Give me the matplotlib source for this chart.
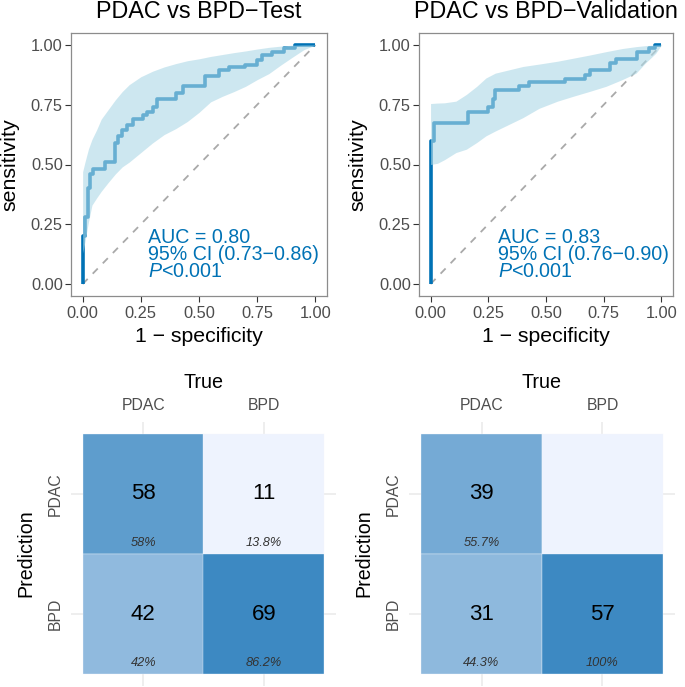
import numpy as np
import matplotlib
matplotlib.use("Agg")
import matplotlib.pyplot as plt
from matplotlib.colors import LinearSegmentedColormap, Normalize

plt.rcParams["font.family"] = ["Liberation Sans", "DejaVu Sans"]
plt.rcParams["mathtext.fontset"] = "custom"
plt.rcParams["mathtext.rm"] = "Liberation Sans"
plt.rcParams["mathtext.it"] = "Liberation Sans:italic"

# ROC curves (fpr, tpr at each step)
test_fpr = [0, 0, 0.012, 0.022, 0.032, 0.045, 0.096, 0.139, 0.154, 0.168, 0.189, 0.218,
            0.26, 0.275, 0.304, 0.318, 0.40, 0.43, 0.524, 0.584, 0.627, 0.699, 0.749,
            0.77, 0.814, 0.864, 0.914, 1.0]
test_tpr = [0, 0.20, 0.28, 0.40, 0.46, 0.48, 0.51, 0.59, 0.62, 0.645, 0.665, 0.69,
            0.705, 0.72, 0.74, 0.772, 0.80, 0.83, 0.871, 0.896, 0.906, 0.917, 0.938,
            0.958, 0.972, 0.986, 1.0, 1.0]

test_ci_fpr = [0, 0.01, 0.025, 0.04, 0.06, 0.08, 0.11, 0.14, 0.17, 0.2, 0.25, 0.3, 0.35,
               0.4, 0.45, 0.5, 0.55, 0.6, 0.65, 0.7, 0.75, 0.8, 0.85, 0.9, 0.95, 1.0]
test_ci_upper = [0.47, 0.51, 0.565, 0.605, 0.645, 0.69, 0.73, 0.77, 0.805, 0.834, 0.867,
                 0.89, 0.908, 0.922, 0.934, 0.942, 0.952, 0.96, 0.968, 0.975, 0.983,
                 0.99, 0.995, 0.999, 1.0, 1.0]
test_ci_lower = [0.13, 0.177, 0.26, 0.33, 0.36, 0.388, 0.425, 0.46, 0.49, 0.51, 0.55,
                 0.59, 0.625, 0.65, 0.68, 0.718, 0.762, 0.785, 0.805, 0.827, 0.855,
                 0.88, 0.915, 0.948, 0.98, 1.0]

val_fpr = [0, 0, 0.017, 0.163, 0.248, 0.27, 0.281, 0.384, 0.427, 0.582, 0.668, 0.689,
           0.775, 0.803, 0.896, 0.946, 0.974, 1.0]
val_tpr = [0, 0.60, 0.672, 0.719, 0.74, 0.772, 0.813, 0.83, 0.844, 0.858, 0.876, 0.896,
           0.924, 0.94, 0.972, 0.986, 1.0, 1.0]

val_ci_fpr = [0, 0.03, 0.06, 0.11, 0.155, 0.2, 0.24, 0.28, 0.34, 0.4, 0.47, 0.55, 0.62,
              0.69, 0.76, 0.83, 0.89, 0.93, 0.975, 1.0]
val_ci_upper = [0.755, 0.757, 0.758, 0.765, 0.793, 0.827, 0.862, 0.882, 0.896, 0.91,
                0.92, 0.932, 0.945, 0.958, 0.972, 0.985, 0.993, 0.997, 1.0, 1.0]
val_ci_lower = [0.50, 0.505, 0.52, 0.55, 0.564, 0.592, 0.62, 0.64, 0.668, 0.696, 0.735,
                0.765, 0.786, 0.806, 0.827, 0.855, 0.882, 0.924, 0.965, 1.0]

test_stats = ["AUC = 0.80", "95% CI (0.73\u22120.86)", "$\\mathit{P}$<0.001"]
val_stats = ["AUC = 0.83", "95% CI (0.76\u22120.90)", "$\\mathit{P}$<0.001"]

# confusion matrices: rows = prediction, columns = true
classes = ["PDAC", "BPD"]
test_counts = [[58, 11], [42, 69]]
val_counts = [[39, 0], [31, 57]]

W, H = 685, 687
LINE_BLUE = "#0072B5"
TICK_GREY = "#4D4D4D"


def px_rect(x0, y0, x1, y1):
    return [x0 / W, 1 - y1 / H, (x1 - x0) / W, (y1 - y0) / H]


def plot_roc(fig, rect, title, fpr, tpr, ci_fpr, ci_lo, ci_hi, stats, ylab_x, text_x):
    ax = fig.add_axes(px_rect(*rect))
    ax.plot([0, 1], [0, 1], color="#A9A9A9", lw=1.3, ls=(0, (4, 4)), zorder=1)
    ax.plot(fpr, tpr, drawstyle="steps-post", color=LINE_BLUE, lw=2.6, zorder=2,
            solid_capstyle="butt")
    # ribbon drawn over the line, like the original
    ax.fill_between(ci_fpr, ci_lo, ci_hi, color="lightblue", alpha=0.6, lw=0, zorder=3)
    ax.text(text_x, 0.123, "\n".join(stats), color=LINE_BLUE, fontsize=14.1,
            va="center", ha="left", linespacing=0.86, zorder=5)
    ax.set_xlim(-0.05, 1.05)
    ax.set_ylim(-0.05, 1.05)
    ticks = [0, 0.25, 0.5, 0.75, 1.0]
    ax.set_xticks(ticks)
    ax.set_yticks(ticks)
    ax.set_xticklabels([f"{t:.2f}" for t in ticks])
    ax.set_yticklabels([f"{t:.2f}" for t in ticks])
    ax.tick_params(length=4.3, width=0.8, color="#333333", labelcolor=TICK_GREY,
                   labelsize=11.8)
    ax.tick_params(axis="x", pad=3.0)
    ax.tick_params(axis="y", pad=1.6)
    for sp in ax.spines.values():
        sp.set_color("#8C8C8C")
        sp.set_linewidth(0.9)
    cx = (rect[0] + rect[2]) / 2
    fig.text(cx / W, 1 - 11 / H, title, ha="center", va="center", fontsize=16.8)
    fig.text(cx / W, 1 - 336 / H, "1 \u2212 specificity", ha="center", va="center",
             fontsize=15.3)
    fig.text(ylab_x / W, 1 - 165 / H, "sensitivity", ha="center", va="center",
             rotation=90, fontsize=15.4)
    return ax


def plot_matrix(fig, rect, counts, ylab_x):
    ax = fig.add_axes(px_rect(*rect))
    counts = np.array(counts)
    col_tot = counts.sum(axis=0)
    cmap = LinearSegmentedColormap.from_list("cm", ["#EEF3FE", "#3D89C2"])
    norm = Normalize(counts.min(), counts.max())
    for r in range(2):
        for c in range(2):
            n = counts[r, c]
            ax.add_patch(plt.Rectangle((c - 0.5, r - 0.5), 1, 1, facecolor=cmap(norm(n)),
                                       edgecolor="#F4F8FD", lw=0.25, zorder=2))
            if n == 0:
                continue
            ax.text(c, r, str(n), ha="center", va="center", fontsize=16, zorder=3)
            pct = 100 * n / col_tot[c]
            lab = f"{pct:.1f}".rstrip("0").rstrip(".") + "%"
            ax.text(c, r + 0.41, lab, ha="center", va="center", fontsize=9.2,
                    style="italic", color="#333333", zorder=3)
    ax.set_xlim(-0.6, 1.6)
    ax.set_ylim(1.6, -0.6)
    ax.set_xticks([0, 1])
    ax.set_yticks([0, 1])
    ax.set_xticklabels(classes)
    ax.set_yticklabels(classes, rotation=90, va="center")
    ax.xaxis.tick_top()
    ax.tick_params(length=0, labelcolor=TICK_GREY, labelsize=11.3)
    ax.tick_params(axis="x", pad=6.5)
    ax.tick_params(axis="y", pad=6.0)
    ax.grid(color="#EBEBEB", lw=1.2, zorder=0)
    ax.set_axisbelow(True)
    for sp in ax.spines.values():
        sp.set_visible(False)
    cx = (rect[0] + rect[2]) / 2
    fig.text(cx / W, 1 - 382 / H, "True", ha="center", va="center", fontsize=14.2)
    fig.text(ylab_x / W, 1 - 553 / H, "Prediction", ha="center", va="center",
             rotation=90, fontsize=14.1)
    return ax


if __name__ == "__main__":
    fig = plt.figure(figsize=(W / 100, H / 100), dpi=100)

    plot_roc(fig, (71, 33, 327, 296), "PDAC vs BPD\u2212Test", test_fpr, test_tpr,
             test_ci_fpr, test_ci_lower, test_ci_upper, test_stats, 10, 0.281)
    plot_roc(fig, (419, 33, 673, 296), "PDAC vs BPD\u2212Validation", val_fpr, val_tpr,
             val_ci_fpr, val_ci_lower, val_ci_upper, val_stats, 358, 0.29)

    plot_matrix(fig, (71, 422, 336, 686), test_counts, 26)
    plot_matrix(fig, (409, 422, 675, 686), val_counts, 364)

    fig.savefig("out.png", dpi=100)
